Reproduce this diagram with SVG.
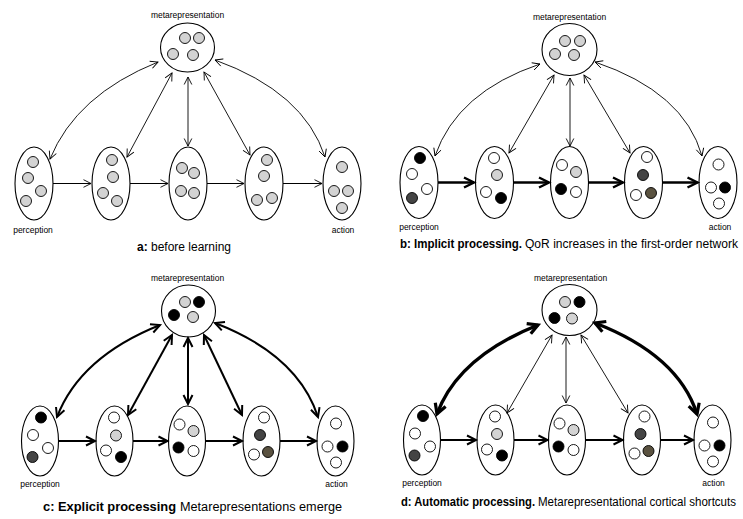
<svg xmlns="http://www.w3.org/2000/svg" width="743" height="519" viewBox="0 0 743 519">
<style>
text{font-family:"Liberation Sans",Arial,sans-serif;fill:#000}
.lbl{font-size:8.5px;text-anchor:middle}
.cap{font-size:12px}
.b{font-weight:bold}
.nd ellipse{fill:#fff;stroke:#000;stroke-width:1.1}
.nd circle{stroke:#000;stroke-width:0.9}
.g{fill:#d3d3d3}.w{fill:#fff}.k{fill:#000}.dk{fill:#444}.ol{fill:#5a5240}
.cn path{fill:none;stroke:#000;stroke-linecap:butt}
.t1{stroke-width:0.9;marker-start:url(#m1);marker-end:url(#m1)}
.h1{stroke-width:1;marker-end:url(#m1)}
.t2{stroke-width:2;marker-start:url(#m2);marker-end:url(#m2)}
.h2{stroke-width:2;marker-end:url(#m2)}
.h25{stroke-width:2.5;marker-end:url(#m25)}
.t3{stroke-width:3.4;marker-start:url(#m3);marker-end:url(#m3)}
</style>
<defs>
<marker id="m1" markerUnits="userSpaceOnUse" orient="auto-start-reverse" viewBox="-12 -7 16 14" markerWidth="16" markerHeight="14" refX="0" refY="0" overflow="visible"><path d="M-7.5,-3.8 L0,0 L-7.5,3.8" fill="none" stroke="#000" stroke-width="0.9"/></marker>
<marker id="m2" markerUnits="userSpaceOnUse" orient="auto-start-reverse" viewBox="-14 -8 20 16" markerWidth="20" markerHeight="16" refX="0" refY="0" overflow="visible"><path d="M-9,-4.5 L0,0 L-9,4.5" fill="none" stroke="#000" stroke-width="2"/></marker>
<marker id="m25" markerUnits="userSpaceOnUse" orient="auto-start-reverse" viewBox="-14 -8 20 16" markerWidth="20" markerHeight="16" refX="0" refY="0" overflow="visible"><path d="M-10,-5 L0,0 L-10,5" fill="none" stroke="#000" stroke-width="2.4"/></marker>
<marker id="m3" markerUnits="userSpaceOnUse" orient="auto-start-reverse" viewBox="-16 -10 24 20" markerWidth="24" markerHeight="20" refX="0" refY="0" overflow="visible"><path d="M-10,-5.5 L0,0 L-10,5.5" fill="none" stroke="#000" stroke-width="3.2"/></marker>
</defs>

<!-- Panel a -->
<g id="panel-a">
<g id="a-meta" class="nd" transform="translate(187.5,47.5)">
<text class="lbl" x="0" y="-30">metarepresentation</text>
<ellipse rx="27" ry="24.5"/>
<circle class="g" cx="-2.5" cy="-9.5" r="5.5"/><circle class="g" cx="11.5" cy="-9.5" r="5.5"/><circle class="g" cx="-14.5" cy="6.5" r="5.5"/><circle class="g" cx="5.5" cy="7.5" r="5.5"/>
</g>
<g id="a-n1" class="nd" transform="translate(34,183.5)">
<ellipse rx="19" ry="36.5"/>
<circle class="g" cx="-1" cy="-21.5" r="5.5"/><circle class="g" cx="-6" cy="-5.5" r="5.5"/><circle class="g" cx="7" cy="7.5" r="5.5"/><circle class="g" cx="-8" cy="17.5" r="5.5"/>
<text class="lbl" x="-1" y="49">perception</text>
</g>
<g id="a-n2" class="nd" transform="translate(111,183.5)">
<ellipse rx="19" ry="36.5"/>
<circle class="g" cx="1" cy="-23.5" r="5.5"/><circle class="g" cx="2" cy="-6.5" r="5.5"/><circle class="g" cx="-8" cy="9.5" r="5.5"/><circle class="g" cx="6" cy="17.5" r="5.5"/>
</g>
<g id="a-n3" class="nd" transform="translate(188,183.5)">
<ellipse rx="19" ry="36.5"/>
<circle class="g" cx="-6" cy="-15.5" r="5.5"/><circle class="g" cx="6" cy="-10.5" r="5.5"/><circle class="g" cx="-7" cy="7.5" r="5.5"/><circle class="g" cx="6" cy="9.5" r="5.5"/>
</g>
<g id="a-n4" class="nd" transform="translate(264,183.5)">
<ellipse rx="19" ry="36.5"/>
<circle class="g" cx="3" cy="-23.5" r="5.5"/><circle class="g" cx="0" cy="-7.5" r="5.5"/><circle class="g" cx="-7" cy="16.5" r="5.5"/><circle class="g" cx="8" cy="14.5" r="5.5"/>
</g>
<g id="a-n5" class="nd" transform="translate(342,183.5)">
<ellipse rx="19" ry="36.5"/>
<circle class="g" cx="0" cy="-16.5" r="5.5"/><circle class="g" cx="-8" cy="7.5" r="5.5"/><circle class="g" cx="6" cy="7.5" r="5.5"/><circle class="g" cx="0" cy="24.5" r="5.5"/>
<text class="lbl" x="1" y="49">action</text>
</g>
<text class="cap" x="184" y="251" text-anchor="middle"><tspan class="b">a:</tspan> before learning</text>
</g>

<!-- Panel b -->
<g id="panel-b">
<g id="b-meta" class="nd" transform="translate(569.5,49.5)">
<text class="lbl" x="0" y="-30">metarepresentation</text>
<ellipse rx="27.5" ry="26"/>
<circle class="g" cx="-4.5" cy="-8.5" r="5.5"/><circle class="g" cx="10.5" cy="-8.5" r="5.5"/><circle class="g" cx="-14.5" cy="4.5" r="5.5"/><circle class="g" cx="4.5" cy="5.5" r="5.5"/>
</g>
<g id="b-n1" class="nd" transform="translate(419,182.5)">
<ellipse rx="19" ry="36"/>
<circle class="k" cx="1" cy="-24.5" r="5.5"/><circle class="w" cx="-7" cy="-8.5" r="5.5"/><circle class="w" cx="8" cy="6.5" r="5.5"/><circle class="dk" cx="-7" cy="15.5" r="5.5"/>
<text class="lbl" x="0" y="47">perception</text>
</g>
<g id="b-n2" class="nd" transform="translate(494.5,182.5)">
<ellipse rx="19" ry="36"/>
<circle class="w" cx="-0.5" cy="-24.5" r="5.5"/><circle class="g" cx="2.5" cy="-7.5" r="5.5"/><circle class="w" cx="-8.5" cy="9.5" r="5.5"/><circle class="k" cx="6.5" cy="15.5" r="5.5"/>
</g>
<g id="b-n3" class="nd" transform="translate(569.5,182.5)">
<ellipse rx="19" ry="36"/>
<circle class="w" cx="-7.5" cy="-17.5" r="5.5"/><circle class="g" cx="6.5" cy="-10.5" r="5.5"/><circle class="k" cx="-8.5" cy="6.5" r="5.5"/><circle class="w" cx="6.5" cy="9.5" r="5.5"/>
</g>
<g id="b-n4" class="nd" transform="translate(643.5,182.5)">
<ellipse rx="19" ry="36"/>
<circle class="w" cx="3.5" cy="-25.5" r="5.5"/><circle class="dk" cx="-0.5" cy="-7.5" r="5.5"/><circle class="w" cx="-7.5" cy="12.5" r="5.5"/><circle class="ol" cx="7.5" cy="10.5" r="5.5"/>
</g>
<g id="b-n5" class="nd" transform="translate(718,182.5)">
<ellipse rx="19" ry="36"/>
<circle class="w" cx="0.5" cy="-18" r="5.5"/><circle class="w" cx="-7" cy="5" r="5.5"/><circle class="k" cx="7" cy="5" r="5.5"/><circle class="w" cx="1" cy="21" r="5.5"/>
<text class="lbl" x="2" y="47">action</text>
</g>
<text class="cap b" x="400" y="248" textLength="122" lengthAdjust="spacingAndGlyphs">b: Implicit processing.</text>
<text class="cap" x="525" y="248" textLength="213" lengthAdjust="spacingAndGlyphs">QoR increases in the first-order network</text>
</g>

<!-- Panel c -->
<g id="panel-c">
<g id="c-meta" class="nd" transform="translate(188.5,311)">
<text class="lbl" x="-1" y="-30.5">metarepresentation</text>
<ellipse rx="27" ry="26"/>
<circle class="g" cx="-3.5" cy="-9" r="5.5"/><circle class="k" cx="10.5" cy="-9" r="5.5"/><circle class="k" cx="-14.5" cy="4" r="5.5"/><circle class="g" cx="4.5" cy="6" r="5.5"/>
</g>
<g id="c-n1" class="nd" transform="translate(40,441)">
<ellipse rx="18.5" ry="35"/>
<circle class="k" cx="1" cy="-23.5" r="5.5"/><circle class="w" cx="-7" cy="-6" r="5.5"/><circle class="w" cx="8" cy="7" r="5.5"/><circle class="dk" cx="-7.5" cy="16" r="5.5"/>
<text class="lbl" x="0" y="46">perception</text>
</g>
<g id="c-n2" class="nd" transform="translate(114.5,441)">
<ellipse rx="18.5" ry="35"/>
<circle class="w" cx="-0.5" cy="-23.5" r="5.5"/><circle class="g" cx="1.5" cy="-5.5" r="5.5"/><circle class="w" cx="-8.5" cy="9.5" r="5.5"/><circle class="k" cx="6.5" cy="16" r="5.5"/>
</g>
<g id="c-n3" class="nd" transform="translate(187,441)">
<ellipse rx="18.5" ry="35"/>
<circle class="w" cx="-7.5" cy="-16.5" r="5.5"/><circle class="g" cx="6.5" cy="-10" r="5.5"/><circle class="k" cx="-8.5" cy="6.5" r="5.5"/><circle class="w" cx="6.5" cy="10" r="5.5"/>
</g>
<g id="c-n4" class="nd" transform="translate(261.5,441)">
<ellipse rx="18.5" ry="35"/>
<circle class="w" cx="2.5" cy="-23.5" r="5.5"/><circle class="dk" cx="-1.5" cy="-6" r="5.5"/><circle class="w" cx="-7.5" cy="13.5" r="5.5"/><circle class="ol" cx="6.5" cy="11" r="5.5"/>
</g>
<g id="c-n5" class="nd" transform="translate(335.5,441)">
<ellipse rx="18.5" ry="35"/>
<circle class="w" cx="0.5" cy="-17.5" r="5.5"/><circle class="w" cx="-8" cy="5.5" r="5.5"/><circle class="k" cx="7" cy="5.5" r="5.5"/><circle class="w" cx="0.5" cy="21.5" r="5.5"/>
<text class="lbl" x="1" y="46">action</text>
</g>
<text class="cap b" x="43" y="511" textLength="133" lengthAdjust="spacingAndGlyphs">c: Explicit processing</text>
<text class="cap" x="180" y="511" textLength="162" lengthAdjust="spacingAndGlyphs">Metarepresentations emerge</text>
</g>

<!-- Panel d -->
<g id="panel-d">
<g id="d-meta" class="nd" transform="translate(569.5,310)">
<text class="lbl" x="1" y="-29.5">metarepresentation</text>
<ellipse rx="27.5" ry="25.5"/>
<circle class="g" cx="-4.5" cy="-8" r="5.5"/><circle class="k" cx="10" cy="-8" r="5.5"/><circle class="k" cx="-15" cy="8" r="5.5"/><circle class="g" cx="2.5" cy="8.5" r="5.5"/>
</g>
<g id="d-n1" class="nd" transform="translate(422,440)">
<ellipse rx="18.5" ry="35"/>
<circle class="k" cx="1" cy="-24" r="5.5"/><circle class="w" cx="-7" cy="-6.5" r="5.5"/><circle class="w" cx="8" cy="6.5" r="5.5"/><circle class="dk" cx="-7.5" cy="15.5" r="5.5"/>
<text class="lbl" x="0" y="45.5">perception</text>
</g>
<g id="d-n2" class="nd" transform="translate(495.5,440)">
<ellipse rx="18.5" ry="35"/>
<circle class="w" cx="-0.5" cy="-23.5" r="5.5"/><circle class="g" cx="1.5" cy="-6" r="5.5"/><circle class="w" cx="-8.5" cy="9.5" r="5.5"/><circle class="k" cx="6.5" cy="15.5" r="5.5"/>
</g>
<g id="d-n3" class="nd" transform="translate(567,440)">
<ellipse rx="18.5" ry="35"/>
<circle class="w" cx="-7.5" cy="-16.5" r="5.5"/><circle class="g" cx="6.5" cy="-10" r="5.5"/><circle class="k" cx="-8.5" cy="6.5" r="5.5"/><circle class="w" cx="6.5" cy="10" r="5.5"/>
</g>
<g id="d-n4" class="nd" transform="translate(642,440)">
<ellipse rx="18.5" ry="35"/>
<circle class="w" cx="2.5" cy="-23.5" r="5.5"/><circle class="dk" cx="-1.5" cy="-6" r="5.5"/><circle class="w" cx="-7.5" cy="13.5" r="5.5"/><circle class="ol" cx="6.5" cy="11" r="5.5"/>
</g>
<g id="d-n5" class="nd" transform="translate(712.5,440)">
<ellipse rx="18.5" ry="35"/>
<circle class="w" cx="0.5" cy="-17.5" r="5.5"/><circle class="w" cx="-8" cy="5.5" r="5.5"/><circle class="k" cx="7" cy="5.5" r="5.5"/><circle class="w" cx="0.5" cy="21.5" r="5.5"/>
<text class="lbl" x="1" y="45.5">action</text>
</g>
<text class="cap b" x="401" y="506" textLength="134" lengthAdjust="spacingAndGlyphs">d: Automatic processing.</text>
<text class="cap" x="538" y="506" textLength="198" lengthAdjust="spacingAndGlyphs">Metarepresentational cortical shortcuts</text>
</g>

<!-- Connectors -->
<g id="connectors" class="cn">
<!-- a -->
<path class="t1" d="M158,62 Q76,95 50,159"/>
<path class="t1" d="M172,73 L127,157"/>
<path class="t1" d="M188,77 L188,146"/>
<path class="t1" d="M204,72 L250,155"/>
<path class="t1" d="M215,60 Q304,92 325,157"/>
<path class="h1" d="M53,183.5 L91,183.5"/>
<path class="h1" d="M130,183.5 L168,183.5"/>
<path class="h1" d="M207,183.5 L244,183.5"/>
<path class="h1" d="M283,183.5 L322,183.5"/>
<!-- b -->
<path class="t1" d="M540,64 Q457,92 435,156"/>
<path class="t1" d="M554,75 L509,153"/>
<path class="t1" d="M570,78 L570,146"/>
<path class="t1" d="M584,75 L630,153"/>
<path class="t1" d="M595,62 Q684,92 702,156"/>
<path class="h25" d="M438,182.5 L474,182.5"/>
<path class="h25" d="M513.5,182.5 L549,182.5"/>
<path class="h25" d="M588.5,182.5 L623,182.5"/>
<path class="h25" d="M662.5,182.5 L697.5,182.5"/>
<!-- c -->
<path class="t2" d="M160,325 Q80,357 57,417"/>
<path class="t2" d="M172,335 L128,415"/>
<path class="t2" d="M188,338 L188,404"/>
<path class="t2" d="M204,335 L242,415"/>
<path class="t2" d="M215,323 Q298,355 318,417"/>
<path class="h2" d="M58.5,441 L95,441"/>
<path class="h2" d="M133,441 L167.5,441"/>
<path class="h2" d="M205.5,441 L242,441"/>
<path class="h2" d="M280,441 L316,441"/>
<!-- d -->
<path class="t3" d="M538,325 Q458,357 437,414"/>
<path class="t1" d="M552,335 L507,413"/>
<path class="t1" d="M566,337 L566,403"/>
<path class="t1" d="M581,335 L628,413"/>
<path class="t3" d="M595,323 Q678,355 697,414"/>
<path class="h2" d="M440.5,440 L476,440"/>
<path class="h2" d="M514,440 L547.5,440"/>
<path class="h2" d="M585.5,440 L622.5,440"/>
<path class="h2" d="M660.5,440 L693,440"/>
</g>
</svg>
